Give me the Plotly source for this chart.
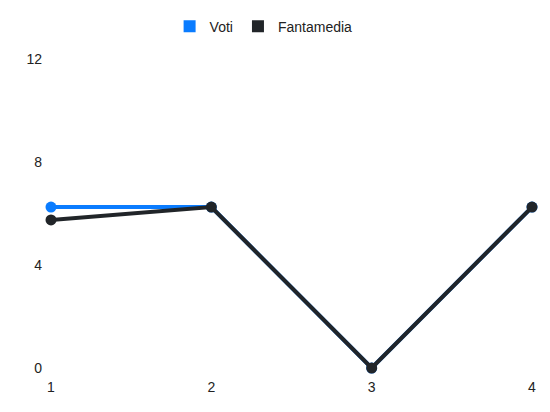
import plotly.graph_objects as go

giornate = ["1", "2", "3", "4"]
voti = [6.25, 6.25, 0, 6.25]
fantamedia = [5.75, 6.25, 0, 6.25]
y_ticks = [0, 4, 8, 12]

blue = "#0a7cff"
dark = "#212529"

fig = go.Figure()

# real series, legend handled by the square dummies below
fig.add_trace(go.Scatter(
    x=giornate, y=voti, mode="lines+markers", name="Voti",
    line=dict(color=blue, width=4), marker=dict(color=blue, size=11),
    showlegend=False, cliponaxis=False
))
fig.add_trace(go.Scatter(
    x=giornate, y=fantamedia, mode="lines+markers", name="Fantamedia",
    line=dict(color=dark, width=4), marker=dict(color=dark, size=11),
    showlegend=False, cliponaxis=False
))

# square legend entries
for name, col in [("Voti", blue), ("Fantamedia", dark)]:
    fig.add_trace(go.Scatter(
        x=[None], y=[None], mode="markers", name=name,
        marker=dict(color=col, size=15, symbol="square")
    ))

# page body adds an 8px offset, margins compensate for it
fig.update_layout(
    width=550, height=412,
    margin=dict(l=43, r=26, t=51, b=52, autoexpand=False),
    plot_bgcolor="white", paper_bgcolor="white",
    font=dict(family="Liberation Sans, Arial, sans-serif", size=14, color="#222"),
    legend=dict(orientation="h", x=0.442, xanchor="center", y=1.105, yanchor="middle",
                font=dict(size=14), itemsizing="constant"),
    xaxis=dict(type="category", range=[0, 3], showgrid=False, zeroline=False,
               showline=False, ticks="", ticklabelstandoff=9, automargin=False),
    yaxis=dict(range=[0, 12], tickvals=y_ticks, showgrid=False, zeroline=False,
               showline=False, ticks="", ticklabelstandoff=8, automargin=False),
)

fig.write_html("out.html")
